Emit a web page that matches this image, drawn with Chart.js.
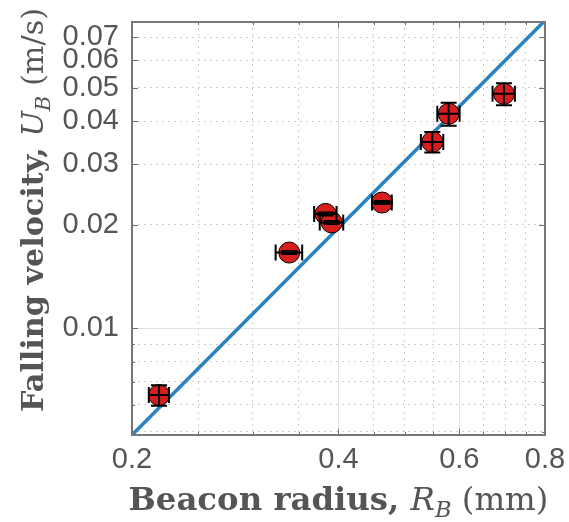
<!DOCTYPE html>
<html>
<head>
<meta charset="utf-8">
<script src="https://cdn.jsdelivr.net/npm/chart.js@4"></script>
<style>
html, body { margin: 0; padding: 0; background: #fff; }
#wrap { width: 569px; height: 522px; }
</style>
</head>
<body>
<div id="wrap"><canvas id="myChart" width="569" height="522"></canvas></div>
<script>
// beacon radius (mm) and falling velocity (m/s)
const radius = [0.219, 0.339, 0.383, 0.391, 0.463, 0.548, 0.579, 0.697];
const velocity = [0.0064, 0.0166, 0.0215, 0.0203, 0.0232, 0.0348, 0.0420, 0.0480];
const radiusErr = [0.0074, 0.0151, 0.0144, 0.0154, 0.0153, 0.0206, 0.0217, 0.0261];
const velocityErr = [0.00044, 0.00017, 0.00022, 0.0002, 0.00023, 0.0024, 0.0032, 0.0035];

// fitted line U ~ R^2
const fitRadius = [0.2, 0.8];
const fitVelocity = [0.0049, 0.0784];

const xTicks = [0.2, 0.25, 0.3, 0.35, 0.4, 0.45, 0.5, 0.55, 0.6, 0.65, 0.7, 0.75, 0.8];
const xLabels = [0.2, 0.4, 0.6, 0.8];
const yTicks = [0.005, 0.006, 0.007, 0.008, 0.009, 0.01, 0.02, 0.03, 0.04, 0.05, 0.06, 0.07];
const yLabels = [0.01, 0.02, 0.03, 0.04, 0.05, 0.06, 0.07];
const xMajor = [0.2, 0.4, 0.6, 0.8];
const yMajor = [0.01];

const textColor = '#555555';
const serif = '"DejaVu Serif", "Liberation Serif", serif';
const sans = '"Liberation Sans", Arial, sans-serif';

// draws a label made of several font runs, centred on the origin,
// scaled so the whole label is `width` pixels wide
function drawRuns(ctx, runs, width) {
    const base = 20;
    let total = 0;
    runs.forEach(r => {
        ctx.font = r.style + ' ' + (r.sub ? base * 0.7 : base) + 'px ' + serif;
        total += ctx.measureText(r.text).width;
    });
    const size = base * width / total;
    let x = -width / 2;
    runs.forEach(r => {
        const s = r.sub ? size * 0.7 : size;
        ctx.font = r.style + ' ' + s + 'px ' + serif;
        ctx.fillText(r.text, x, r.sub ? size * 0.22 : 0);
        x += ctx.measureText(r.text).width;
    });
}

// no extra room for first/last tick labels, the layout padding handles it
function fixPadding(scale) {
    scale.paddingTop = 0;
    scale.paddingBottom = 0;
    scale.paddingLeft = 0;
    scale.paddingRight = 0;
}

const axisTitles = {
    id: 'axisTitles',
    afterDraw(chart) {
        const ctx = chart.ctx;
        const area = chart.chartArea;
        ctx.save();
        ctx.fillStyle = textColor;
        ctx.textBaseline = 'alphabetic';
        ctx.textAlign = 'left';
        ctx.translate((area.left + area.right) / 2, 510);
        drawRuns(ctx, [
            { text: 'Beacon radius, ', style: 'bold' },
            { text: 'R', style: 'italic' },
            { text: 'B', style: 'italic', sub: true },
            { text: ' (mm)', style: '' }
        ], 420);
        ctx.restore();

        ctx.save();
        ctx.fillStyle = textColor;
        ctx.textBaseline = 'alphabetic';
        ctx.textAlign = 'left';
        ctx.translate(43, 210);
        ctx.rotate(-Math.PI / 2);
        drawRuns(ctx, [
            { text: 'Falling velocity, ', style: 'bold' },
            { text: 'U', style: 'italic' },
            { text: 'B', style: 'italic', sub: true },
            { text: ' (m/s)', style: '' }
        ], 404);
        ctx.restore();
    }
};

const errorBars = {
    id: 'errorBars',
    afterDatasetsDraw(chart) {
        const ctx = chart.ctx;
        const xs = chart.scales.x;
        const ys = chart.scales.y;
        const cap = 8;
        ctx.save();
        ctx.strokeStyle = '#000';
        ctx.lineWidth = 2;
        radius.forEach((r, i) => {
            const v = velocity[i];
            const px = xs.getPixelForValue(r);
            const py = ys.getPixelForValue(v);
            const x0 = xs.getPixelForValue(r - radiusErr[i]);
            const x1 = xs.getPixelForValue(r + radiusErr[i]);
            const y0 = ys.getPixelForValue(v - velocityErr[i]);
            const y1 = ys.getPixelForValue(v + velocityErr[i]);
            ctx.beginPath();
            ctx.moveTo(x0, py); ctx.lineTo(x1, py);
            ctx.moveTo(x0, py - cap); ctx.lineTo(x0, py + cap);
            ctx.moveTo(x1, py - cap); ctx.lineTo(x1, py + cap);
            ctx.moveTo(px, y0); ctx.lineTo(px, y1);
            ctx.moveTo(px - cap, y0); ctx.lineTo(px + cap, y0);
            ctx.moveTo(px - cap, y1); ctx.lineTo(px + cap, y1);
            ctx.stroke();
        });
        ctx.restore();
    }
};

const boxFrame = {
    id: 'boxFrame',
    afterDraw(chart) {
        const ctx = chart.ctx;
        const a = chart.chartArea;
        const xs = chart.scales.x;
        const ys = chart.scales.y;
        ctx.save();
        ctx.strokeStyle = '#6e6e6e';
        ctx.lineWidth = 1;
        ctx.beginPath();
        xTicks.forEach(v => {
            const p = Math.round(xs.getPixelForValue(v)) + 0.5;
            const len = xLabels.includes(v) ? 6 : 3;
            ctx.moveTo(p, a.bottom); ctx.lineTo(p, a.bottom - len);
            ctx.moveTo(p, a.top); ctx.lineTo(p, a.top + len);
        });
        yTicks.forEach(v => {
            const p = Math.round(ys.getPixelForValue(v)) + 0.5;
            const len = yLabels.includes(v) ? 6 : 3;
            ctx.moveTo(a.left, p); ctx.lineTo(a.left + len, p);
            ctx.moveTo(a.right, p); ctx.lineTo(a.right - len, p);
        });
        ctx.stroke();
        ctx.lineWidth = 2;
        ctx.strokeStyle = '#777777';
        ctx.strokeRect(a.left, a.top, a.right - a.left, a.bottom - a.top);
        ctx.restore();
    }
};

const ctx = document.getElementById('myChart').getContext('2d');
new Chart(ctx, {
    type: 'scatter',
    data: {
        datasets: [{
            label: 'Data',
            data: radius.map((r, i) => ({ x: r, y: velocity[i] })),
            backgroundColor: '#d61e1e',
            borderColor: '#000',
            borderWidth: 1,
            pointRadius: 10.5,
            pointHoverRadius: 10.5,
            order: 1
        }, {
            label: 'Fit',
            data: fitRadius.map((r, i) => ({ x: r, y: fitVelocity[i] })),
            showLine: true,
            borderColor: '#2a82c0',
            borderWidth: 3.5,
            pointRadius: 0,
            order: 2
        }]
    },
    options: {
        responsive: false,
        animation: false,
        layout: { padding: { top: 22, right: 24, left: 0, bottom: 0 } },
        plugins: {
            legend: { display: false },
            tooltip: { enabled: false }
        },
        scales: {
            x: {
                type: 'logarithmic',
                min: 0.2,
                max: 0.8,
                afterBuildTicks: scale => { scale.ticks = xTicks.map(v => ({ value: v })); },
                afterFit: scale => { scale.height = 87; fixPadding(scale); },
                ticks: {
                    autoSkip: false,
                    maxRotation: 0,
                    padding: 8,
                    color: textColor,
                    font: { family: sans, size: 29 },
                    callback: v => xLabels.includes(v) ? v.toFixed(1) : ''
                },
                grid: {
                    drawTicks: false,
                    color: c => xMajor.includes(c.tick.value) ? '#e2e2e2' : '#d0d0d0',
                    lineWidth: 1
                },
                border: {
                    display: false,
                    dash: c => xMajor.includes(c.tick.value) ? [] : [2, 4]
                }
            },
            y: {
                type: 'logarithmic',
                min: 0.0049,
                max: 0.0776,
                afterBuildTicks: scale => { scale.ticks = yTicks.map(v => ({ value: v })); },
                afterFit: scale => { scale.width = 132; fixPadding(scale); },
                ticks: {
                    autoSkip: false,
                    padding: 13,
                    color: textColor,
                    font: { family: sans, size: 29 },
                    callback: v => yLabels.includes(v) ? v.toFixed(2) : ''
                },
                grid: {
                    drawTicks: false,
                    color: c => yMajor.includes(c.tick.value) ? '#e2e2e2' : '#d0d0d0',
                    lineWidth: 1
                },
                border: {
                    display: false,
                    dash: c => yMajor.includes(c.tick.value) ? [] : [2, 4]
                }
            }
        }
    },
    plugins: [errorBars, boxFrame, axisTitles]
});
</script>
</body>
</html>
